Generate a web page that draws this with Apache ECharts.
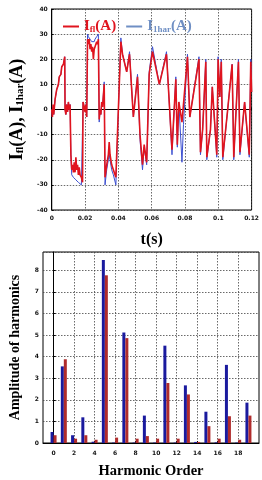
<!DOCTYPE html>
<html><head><meta charset="utf-8">
<script src="https://cdn.jsdelivr.net/npm/echarts@6/dist/echarts.min.js"></script>
<style>html,body{margin:0;padding:0;background:#fff}#c{width:262px;height:480px}</style>
</head><body><div id="c"></div>
<script>
// ---- top chart: currents vs time ----
const timeS = [0,0.0004,0.0008,0.0012,0.0016,0.002,0.003,0.004,0.0045,0.0055,0.006,0.007,0.0078,0.008,0.0085,0.009,0.0095,0.010,0.0105,0.011,
0.0115,0.012,0.0125,0.013,0.0135,0.014,0.0145,0.015,0.0155,0.016,0.0165,0.017,0.0178,0.0185,0.0188,0.0195,0.020,0.0205,0.021,
0.0215,0.022,0.0225,0.023,0.0235,0.024,0.0245,0.025,0.0255,0.026,0.027,0.0275,0.028,0.0285,0.029,0.0295,0.030,0.0305,0.0315,
0.032,0.033,0.034,0.0345,0.035,0.036,0.037,0.0385,0.0415,0.0425,0.045,0.0467,0.049,0.0515,0.053,0.0545,0.0555,0.057,0.0585,
0.0605,0.0646,0.0689,0.0722,0.0745,0.0754,0.0763,0.0782,0.0791,0.0815,0.0829,0.0884,0.0893,0.0906,0.0925,0.0931,0.0953,0.0964,
0.0991,0.0999,0.1009,0.1018,0.1027,0.1055,0.1083,0.1093,0.1121,0.1130,0.1158,0.1186,0.1195,0.12];
const iFl = [0,-3,2,-2,1,4,8,10,13,14,17,18,21,0,-2,2,-1,3,0,2,
-18,-24,-22,-25,-21,-25,-19,-24,-22,-26,-23,-26,-27,-29,3,1,-1,2,-3,
28,26,28,24,26,23,25,20,24,25,27,26,28,-4,0,-2,3,1,10,
-27,-22,-18,-13,-18,-22,-24,-27,27,22,15,22,-3,13,-10,-22,-14,-21,14,
23,10,22,-16,12,-14,3,-5,-5,21,-3,20,-17,-8,19,-19,-8,9,
-18,20,5,19,-19,-1,18,-19,19,-17,3,-18,19,7];
const i1har = [0,-3,1,-2,1,4,8,10,13,14,17,18,21,0,-2,2,-1,3,0,2,
-18,-26,-26,-27,-27,-27.5,-28,-28,-28.5,-29,-29,-29.5,-30,-30.5,3,1,0,2,-3,
30,29,29,28,28,27,27,26.5,27,28,29,29.5,30,-5,0,-2,3,1,11,
-30,-24,-20,-18,-18,-24,-26,-30,28.5,22,15,23,-3,14,-12,-24,-15,-22,15,
25,10,23,-18,13,-15,3,-21,-6,22,-3,21,-18,-8,20,-20,-8,9,
-19,21,5,20,-20,-1,18,-20,20,-18,3,-19,20,7];
const tTicks = [0,0.02,0.04,0.06,0.08,0.1,0.12];

// ---- bottom chart: harmonic spectrum ----
const harmonicOrder = [0,1,2,3,4,5,6,7,8,9,10,11,12,13,14,15,16,17,18,19];
const ampBlue = [0.51,3.55,0.36,1.19,0.06,8.48,0.02,5.12,0.02,1.27,0.02,4.51,0.02,2.67,0.05,1.45,0.03,3.62,0.02,1.87];
const ampRed  = [0.36,3.88,0.2,0.36,0.15,7.77,0.25,4.86,0.2,0.32,0.2,2.78,0.2,2.25,0.05,0.78,0.2,1.24,0.15,1.27];
const orderTicks = [0,2,4,6,8,10,12,14,16,18];

const pair = (xs, ys) => xs.map((x, i) => [x, ys[i]]);
const serif = 'Liberation Serif';
const tickFont = {fontSize: 6, color: '#111', fontFamily: 'DejaVu Sans', fontWeight: 'bold'};
const dotted = {show: true, lineStyle: {color: '#444', type: [1.5, 1.5], width: 0.8}};

const chart = echarts.init(document.getElementById('c'), null, {renderer: 'canvas'});
chart.setOption({
  animation: false,
  backgroundColor: '#fff',
  grid: [
    {left: 39, top: 9, width: 215, height: 201, show: true, borderColor: '#000', borderWidth: 1},
    {left: 35, top: 252, width: 224, height: 195, show: true, borderColor: '#000', borderWidth: 1}
  ],
  legend: {
    left: 58, top: 14, itemWidth: 16, itemHeight: 2, itemGap: 10,
    icon: 'rect',
    data: [
      {name: 'Ifl', textStyle: {color: '#e0141e'}},
      {name: 'I1har', textStyle: {color: '#6f8fc4'}}
    ],
    formatter: n => n === 'Ifl' ? '{b|I}{s|fl}{b|(A)}' : '{b|I}{s|1har}{b|(A)}',
    textStyle: {
      fontFamily: serif, fontWeight: 'bold',
      rich: {
        b: {fontSize: 15, fontFamily: serif, fontWeight: 'bold'},
        s: {fontSize: 9, fontFamily: serif, fontWeight: 'bold', verticalAlign: 'bottom', padding: [6, 0, 0, 0]}
      }
    }
  },
  xAxis: [
    {type: 'value', gridIndex: 0, min: 0, max: 0.12, interval: 0.02,
     name: 't(s)', nameLocation: 'middle', nameGap: 22,
     nameTextStyle: {fontFamily: serif, fontWeight: 'bold', fontSize: 16, color: '#000'},
     axisLine: {lineStyle: {color: '#000'}}, axisTick: {inside: true, length: 2, lineStyle: {color: '#000'}},
     axisLabel: Object.assign({margin: 5, formatter: v => String(+v.toFixed(2))}, tickFont),
     splitLine: dotted},
    {type: 'value', gridIndex: 1, min: -1.03, max: 20.03,
     name: 'Harmonic Order', nameLocation: 'middle', nameGap: 21,
     nameTextStyle: {fontFamily: serif, fontWeight: 'bold', fontSize: 14.5, color: '#000'},
     axisLine: {lineStyle: {color: '#000'}},
     axisTick: {inside: true, length: 2, customValues: orderTicks, lineStyle: {color: '#000'}},
     axisLabel: Object.assign({margin: 7, customValues: orderTicks}, tickFont),
     splitLine: dotted}
  ],
  yAxis: [
    {type: 'value', gridIndex: 0, min: -40, max: 40, interval: 10,
     name: '{b|I}{s|fl}{b|(A), I}{s|1har}{b|(A)}', nameLocation: 'middle', nameGap: 24,
     nameTextStyle: {color: '#000', rich: {
       b: {fontSize: 18, fontFamily: serif, fontWeight: 'bold', color: '#000'},
       s: {fontSize: 11, fontFamily: serif, fontWeight: 'bold', color: '#000', verticalAlign: 'bottom', padding: [7, 0, 0, 0]}}},
     axisLine: {lineStyle: {color: '#000'}}, axisTick: {inside: true, length: 2, lineStyle: {color: '#000'}},
     axisLabel: Object.assign({margin: 4}, tickFont),
     splitLine: dotted},
    {type: 'value', gridIndex: 1, min: 0, max: 8.85, interval: 1,
     name: 'Amplitude of harmonics', nameLocation: 'middle', nameGap: 21,
     nameTextStyle: {fontFamily: serif, fontWeight: 'bold', fontSize: 14, color: '#000'},
     axisLine: {lineStyle: {color: '#000'}}, axisTick: {inside: true, length: 2, lineStyle: {color: '#000'}},
     axisLabel: Object.assign({margin: 4, showMaxLabel: false}, tickFont),
     splitLine: dotted}
  ],
  series: [
    {name: 'I1har', type: 'line', xAxisIndex: 0, yAxisIndex: 0, data: pair(timeS, i1har),
     symbol: 'none', lineStyle: {color: '#3c4fd0', width: 1}, itemStyle: {color: '#6f8fc4'}},
    {name: 'Ifl', type: 'line', xAxisIndex: 0, yAxisIndex: 0, data: pair(timeS, iFl),
     symbol: 'none', lineStyle: {color: '#e0141e', width: 1.6}, itemStyle: {color: '#e0141e'}},
    {name: 'blueBars', type: 'bar', xAxisIndex: 1, yAxisIndex: 1, data: pair(harmonicOrder, ampBlue),
     barWidth: 3, barGap: '0%', itemStyle: {color: '#1a1a9e'}},
    {name: 'redBars', type: 'bar', xAxisIndex: 1, yAxisIndex: 1, data: pair(harmonicOrder, ampRed),
     barWidth: 3, barGap: '0%', itemStyle: {color: '#b02c2c'}}
  ]
});
</script></body></html>
